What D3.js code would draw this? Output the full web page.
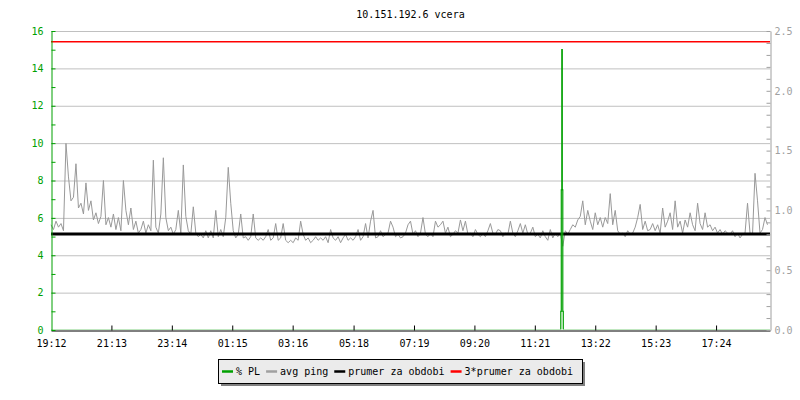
<!DOCTYPE html>
<html>
<head>
<meta charset="utf-8">
<script src="https://cdn.jsdelivr.net/npm/d3@7"></script>
<style>
  body { margin: 0; background: #fff; }
  text { font-family: "DejaVu Sans Mono", monospace; font-size: 10px; }
</style>
</head>
<body>
<svg id="chart"></svg>
<script>
// data
const titleText = '10.151.192.6 vcera';
const startLabel = '19:12';
const sampleMinutes = 5;

// avg ping, one sample every 5 minutes (right axis)
const avgPing = [
  0.88,0.84,0.91,0.86,0.89,0.83,1.56,1.28,1.08,1.11,1.39,1.02,
  1.06,0.97,1.23,1.00,1.08,0.92,0.98,0.89,0.95,1.25,0.88,0.94,
  0.86,0.97,0.84,0.94,0.83,1.25,1.00,0.88,1.02,0.84,0.91,0.81,
  0.84,0.91,0.81,0.88,0.83,1.42,0.86,0.81,0.97,1.44,0.94,0.83,
  0.86,0.80,0.84,1.00,0.81,1.38,0.95,0.83,0.80,1.03,0.81,0.78,
  0.80,0.77,0.83,0.77,0.83,0.77,1.00,0.78,0.84,0.78,0.94,1.36,
  1.06,0.83,0.77,0.80,0.97,0.77,0.78,0.75,0.78,0.97,0.77,0.75,
  0.77,0.75,0.78,0.84,0.75,0.77,0.89,0.75,0.77,0.89,0.75,0.73,
  0.75,0.73,0.77,0.75,0.91,0.80,0.75,0.77,0.73,0.75,0.78,0.75,
  0.77,0.75,0.78,0.73,0.84,0.77,0.75,0.78,0.73,0.77,0.80,0.75,
  0.77,0.75,0.78,0.84,0.75,0.78,0.89,0.77,0.91,1.00,0.77,0.78,
  0.83,0.78,0.80,0.81,0.91,0.86,0.78,0.80,0.77,0.78,0.81,0.88,
  0.91,0.80,0.83,0.78,0.81,0.94,0.80,0.78,0.81,0.78,0.91,0.86,
  0.88,0.91,0.81,0.86,0.78,0.80,0.83,0.81,0.92,0.83,0.91,0.80,
  0.81,0.78,0.84,0.80,0.78,0.81,0.78,0.83,0.89,0.81,0.80,0.84,
  0.83,0.78,0.81,0.80,0.91,0.81,0.78,0.83,0.89,0.81,0.88,0.80,
  0.81,0.86,0.78,0.80,0.77,0.83,0.78,0.75,0.84,0.77,0.81,0.78,
  0.81,0.70,0.83,0.80,0.84,0.88,0.86,0.92,0.95,1.08,0.88,1.00,
  0.91,0.84,0.98,0.88,0.94,0.86,0.94,0.89,1.14,0.88,1.00,0.83,
  0.80,0.81,0.78,0.83,0.80,0.81,0.86,0.94,1.05,0.84,0.91,0.83,
  0.84,0.89,0.83,0.88,0.81,1.02,0.86,0.91,0.98,0.84,1.08,0.86,
  0.91,0.81,0.92,0.86,0.98,0.88,0.83,1.06,0.89,0.84,0.98,0.86,
  0.88,0.83,0.86,0.81,0.84,0.80,0.83,0.81,0.80,0.83,0.78,0.81,
  0.77,0.80,0.81,1.06,0.81,0.80,1.31,1.08,0.81,0.84,0.94,0.88
];

// % PL (left axis), minutes after start
const plMinutes = [0, 1021, 1022, 1023, 1024, 1025, 1026, 1440];
const plValues  = [0, 1.0, 7.5, 15.0, 7.5, 1.0, 0, 0];

const prumer = 0.803;
const prumer3 = 2.41;

const timeTicks = ['19:12','21:13','23:14','01:15','03:16','05:18','07:19','09:20','11:21','13:22','15:23','17:24'];
const leftTicks = [0, 2, 4, 6, 8, 10, 12, 14, 16];
const leftMinor = [1, 3, 5, 7, 9, 11, 13, 15];
const rightTicks = [0, 0.1, 0.2, 0.3, 0.4, 0.5, 0.6, 0.7, 0.8, 0.9, 1.0, 1.1, 1.2, 1.3, 1.4, 1.5, 1.6, 1.7, 1.8, 1.9, 2.0, 2.1, 2.2, 2.3, 2.4, 2.5];
const legendNames = ['% PL', 'avg ping', 'prumer za obdobi', '3*prumer za obdobi'];
const legendColors = ['#00a000', '#a0a0a0', '#000000', '#ff0000'];

// layout
const width = 800, height = 400;
const margin = {top: 31, right: 30, bottom: 70, left: 51};
const green = '#00a000';

const svg = d3.select('#chart')
    .attr('width', width)
    .attr('height', height);

svg.append('defs').append('clipPath').attr('id', 'plot')
  .append('rect')
    .attr('x', margin.left).attr('y', 0)
    .attr('width', width - margin.left - margin.right)
    .attr('height', height - margin.bottom - 0.6);

function toDate(label) {
  const p = label.split(':');
  const s = startLabel.split(':');
  const d = new Date(2024, 0, 1, +p[0], +p[1]);
  if (+p[0] * 60 + +p[1] < +s[0] * 60 + +s[1]) d.setDate(d.getDate() + 1);
  return d;
}
const t0 = toDate(startLabel);
const t1 = new Date(t0.getTime() + 24 * 3600 * 1000);

const x = d3.scaleTime().domain([t0, t1]).range([margin.left, width - margin.right]);
const yL = d3.scaleLinear().domain([0, 16]).range([height - margin.bottom, margin.top]);
const yR = d3.scaleLinear().domain([0, 2.5]).range([height - margin.bottom, margin.top]);

// title
svg.append('text')
    .attr('x', (margin.left + width - margin.right) / 2)
    .attr('y', 18)
    .attr('text-anchor', 'middle')
    .text(titleText);

// grid
svg.append('g')
    .selectAll('line')
    .data(leftTicks.filter(d => d > 0))
    .enter().append('line')
    .attr('x1', margin.left).attr('x2', width - margin.right)
    .attr('y1', d => yL(d) + 0.5).attr('y2', d => yL(d) + 0.5)
    .attr('stroke', '#c0c0c0');

// series
const pingData = avgPing.map((v, i) => ({t: new Date(t0.getTime() + i * sampleMinutes * 60000), v: v}));
svg.append('path')
    .datum(pingData)
    .attr('fill', 'none')
    .attr('stroke', '#999999')
    .attr('stroke-width', 1)
    .attr('d', d3.line().x(d => x(d.t)).y(d => yR(d.v)));

svg.append('line')
    .attr('x1', x(t0)).attr('x2', x(t1))
    .attr('y1', yR(prumer)).attr('y2', yR(prumer))
    .attr('stroke', '#000').attr('stroke-width', 3);

svg.append('line')
    .attr('x1', x(t0)).attr('x2', x(t1))
    .attr('y1', yR(prumer3)).attr('y2', yR(prumer3))
    .attr('stroke', '#ff0000').attr('stroke-width', 1.5);

const plData = plMinutes.map((m, i) => ({t: new Date(t0.getTime() + m * 60000), v: plValues[i]}));
svg.append('path')
    .datum(plData)
    .attr('clip-path', 'url(#plot)')
    .attr('fill', 'none')
    .attr('stroke', green)
    .attr('stroke-width', 1.2)
    .attr('d', d3.line().curve(d3.curveStepAfter).x(d => x(d.t)).y(d => yL(d.v)));

// x axis
const xAxis = svg.append('g')
    .attr('transform', 'translate(0,' + (height - margin.bottom + 0.5) + ')')
    .call(d3.axisBottom(x)
        .tickValues(timeTicks.map(toDate))
        .tickFormat(d3.timeFormat('%H:%M'))
        .tickSizeInner(-5)
        .tickSizeOuter(0)
        .tickPadding(9));
xAxis.selectAll('path, line').attr('stroke', '#000');
xAxis.selectAll('text').attr('fill', '#000').style('font-size', '10px').style('font-family', '"DejaVu Sans Mono", monospace');
xAxis.selectAll('.tick').filter((d, i) => i === 0).select('line').remove();

// left axis
const leftAxis = svg.append('g')
    .attr('transform', 'translate(' + (margin.left + 0.5) + ',0)')
    .call(d3.axisLeft(yL)
        .tickValues(leftTicks)
        .tickSizeInner(-4)
        .tickSizeOuter(0)
        .tickPadding(8));
leftAxis.append('g').call(d3.axisLeft(yL).tickValues(leftMinor).tickFormat('').tickSizeInner(-4).tickSizeOuter(0))
    .select('.domain').remove();
leftAxis.selectAll('path, line').attr('stroke', green);
leftAxis.selectAll('text').attr('fill', green).style('font-size', '10px').style('font-family', '"DejaVu Sans Mono", monospace');

// right axis
const rightAxis = svg.append('g')
    .attr('transform', 'translate(' + (width - margin.right + 0.5) + ',0)')
    .call(d3.axisRight(yR)
        .tickValues(rightTicks)
        .tickFormat(d => (Math.round(d * 10) % 5 === 0) ? d.toFixed(1) : '')
        .tickSizeInner(-4)
        .tickSizeOuter(0)
        .tickPadding(4));
rightAxis.selectAll('path, line').attr('stroke', '#a0a0a0');
rightAxis.selectAll('text').attr('fill', '#a0a0a0').style('font-size', '10px').style('font-family', '"DejaVu Sans Mono", monospace');

// legend
const legend = svg.append('g');
const lx = 218, ly = 359, lw = 364, lh = 24;
legend.append('rect')
    .attr('x', lx + 3).attr('y', ly + 3).attr('width', lw).attr('height', lh)
    .attr('fill', '#808080');
legend.append('rect')
    .attr('x', lx + 0.5).attr('y', ly + 0.5).attr('width', lw).attr('height', lh)
    .attr('fill', '#ebebeb').attr('stroke', '#000');
let cx = lx + 4;
legendNames.forEach(function(name, i) {
  legend.append('line')
      .attr('x1', cx).attr('x2', cx + 11)
      .attr('y1', ly + 12.5).attr('y2', ly + 12.5)
      .attr('stroke', legendColors[i]).attr('stroke-width', 2.5);
  const t = legend.append('text')
      .attr('x', cx + 14).attr('y', ly + 16)
      .text(name);
  cx += 14 + t.node().getComputedTextLength() + 6;
});
</script>
</body>
</html>
